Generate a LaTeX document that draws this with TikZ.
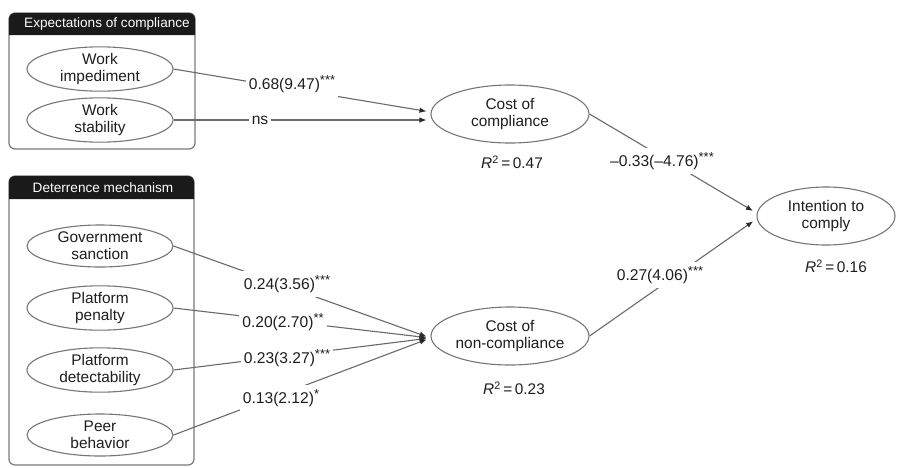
\documentclass[tikz,border=0pt]{standalone}
\usepackage{fontspec}
\setmainfont{Liberation Sans}
\usetikzlibrary{shapes.geometric,arrows.meta,calc}
\definecolor{linegray}{HTML}{6A6A6A}
\definecolor{ellgray}{HTML}{767676}
\definecolor{boxgray}{HTML}{7A7A7A}
\definecolor{tipgray}{HTML}{2A2A2A}
\definecolor{txt}{HTML}{1E1E1E}
\definecolor{hdr}{HTML}{1A1A1A}
\newcommand\sigst[1]{\raisebox{0.3em}{\fontsize{13}{13}\selectfont #1}}
\begin{document}
\begin{tikzpicture}[x=1pt,y=-1pt,
  lat/.style={ellipse,draw=ellgray,line width=1.1pt,minimum width=146pt,minimum height=42pt,
    inner sep=0pt,align=center,text=txt,font={\fontsize{15.4}{17}\selectfont}},
  big/.style={lat,minimum width=158pt,minimum height=58pt},
  conn/.style={draw=linegray,line width=1.1pt,shorten >=4pt,
    -{Latex[length=7pt,width=5.5pt,color=tipgray]}},
  elab/.style={fill=white,inner xsep=3pt,inner ysep=5pt,text=txt,font={\fontsize{15.6}{17}\selectfont}},
  rsq/.style={inner sep=1pt,text=txt,font={\fontsize{15.4}{17}\selectfont}},
  hdrtext/.style={inner sep=0pt,text=white,font={\fontsize{13.6}{15}\selectfont}},
  grpbox/.style={draw=boxgray,line width=1.2pt,rounded corners=6pt}
]
\useasboundingbox (0,0) rectangle (899,467);
\fill[white] (0,0) rectangle (899,467);

% group boxes
\draw[grpbox] (9,13) rectangle (195,149);
\fill[hdr] (9,35) [rounded corners=6pt] -- (9,13) -- (195,13) [sharp corners] -- (195,35) -- cycle;
\node[hdrtext] (h1) at (107,24) {Expectations of compliance};

\draw[grpbox] (9,176) rectangle (194,465);
\fill[hdr] (9,199) [rounded corners=6pt] -- (9,176) -- (194,176) [sharp corners] -- (194,199) -- cycle;
\node[hdrtext] (h2) at (103,188) {Deterrence mechanism};

% latent variables
\node[lat] (wi) at (100,69) {Work\\impediment};
\node[lat] (ws) at (100,120) {Work\\stability};
\node[lat] (gs) at (100,246) {Government\\sanction};
\node[lat] (pp) at (100,308) {Platform\\penalty};
\node[lat] (pd) at (100,370) {Platform\\detectability};
\node[lat] (pb) at (100,435) {Peer\\behavior};
\node[big] (cc) at (510,114) {Cost of\\compliance};
\node[big] (cn) at (510,336) {Cost of\\non-compliance};
\node[big,minimum width=138pt] (ic) at (826,216) {Intention to\\comply};

% R-squared
\node[rsq] (r1) at (512,162) {\textit{R}\textsuperscript{2}\,=\,0.47};
\node[rsq] (r2) at (514,388) {\textit{R}\textsuperscript{2}\,=\,0.23};
\node[rsq] (r3) at (836,266) {\textit{R}\textsuperscript{2}\,=\,0.16};

% paths
\draw[conn] (wi.east) -- ([yshift=2pt]cc.west);
\draw[conn] (ws.east) -- (ws.east -| cc.west);
\draw[conn] (gs.east) -- ([yshift=-2pt]cn.west);
\draw[conn] (pp.east) -- ([yshift=-2pt]cn.west);
\draw[conn] (pd.east) -- ([yshift=-2pt]cn.west);
\draw[conn] (pb.east) -- ([yshift=-2pt]cn.west);
\draw[conn] (cc.east) -- ([yshift=3pt]ic.west);
\draw[conn] (cn.east) -- ([yshift=-3pt]ic.west);

% path labels
\node[elab] (l1) at (292,84) {0.68(9.47)\sigst{***}};
\node[elab] (l2) at (260,120) {ns};
\node[elab] (l3) at (287,284) {0.24(3.56)\sigst{***}};
\node[elab] (l4) at (283,322) {0.20(2.70)\sigst{**}};
\node[elab] (l5) at (287,358) {0.23(3.27)\sigst{***}};
\node[elab] (l6) at (281,398) {0.13(2.12)\sigst{*}};
\node[elab] (l7) at (662,161) {–0.33(–4.76)\sigst{***}};
\node[elab] (l8) at (660,275) {0.27(4.06)\sigst{***}};
\end{tikzpicture}
\end{document}
